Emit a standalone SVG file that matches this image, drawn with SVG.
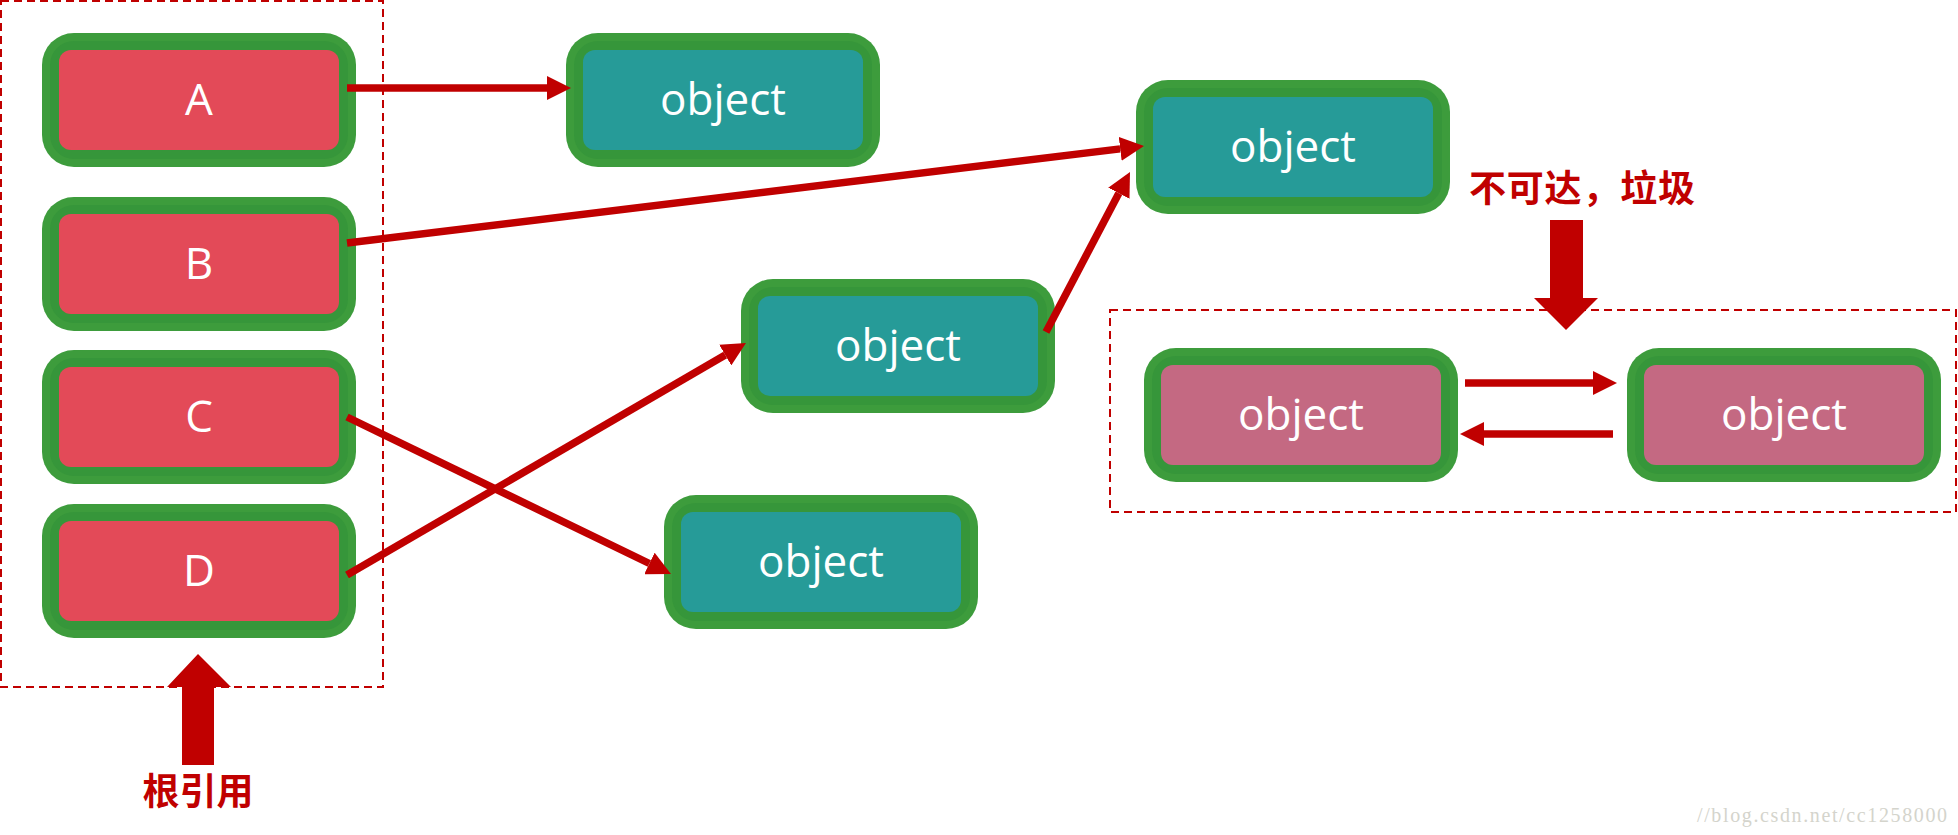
<svg xmlns="http://www.w3.org/2000/svg" width="1958" height="835" viewBox="0 0 1958 835">
<style>
.o{fill:#3d9c3c}
.m{fill:#36963a}
.red{fill:#e34a58}
.teal{fill:#269b98}
.pink{fill:#c46982}
.lbl{font-family:"Open Sans","Noto Sans",sans-serif;font-size:44px;fill:#ffffff;text-anchor:middle}
.dash{fill:none;stroke:#c00000;stroke-width:2;stroke-dasharray:8 5}
.cn{font-family:"Noto Sans CJK SC",sans-serif;font-weight:bold;font-size:37px;fill:#c00000}
.con{stroke:#c00000;stroke-width:7.5;fill:none;marker-end:url(#ah)}
</style>
<defs>
<marker id="ah" markerUnits="userSpaceOnUse" markerWidth="24" markerHeight="24" refX="0" refY="12" orient="auto" viewBox="0 0 24 24">
<path d="M0,0 L24,12 L0,24 z" fill="#c00000"/>
</marker>
<g id="box">
<rect x="0" y="0" width="314" height="134" rx="32" class="o"/>
<rect x="8" y="8" width="298" height="118" rx="24" class="m"/>
</g>
</defs>
<rect width="1958" height="835" fill="#ffffff"/>
<rect x="1" y="1" width="382" height="686" class="dash"/>
<rect x="1110" y="310" width="846" height="202" class="dash"/>

<g id="nodeA"><use href="#box" x="42" y="33"/><rect x="59" y="50" width="280" height="100" rx="12" class="red"/><text x="199" y="115" class="lbl">A</text></g>
<g id="nodeB"><use href="#box" x="42" y="197"/><rect x="59" y="214" width="280" height="100" rx="12" class="red"/><text x="199" y="279" class="lbl">B</text></g>
<g id="nodeC"><use href="#box" x="42" y="350"/><rect x="59" y="367" width="280" height="100" rx="12" class="red"/><text x="199" y="432" class="lbl">C</text></g>
<g id="nodeD"><use href="#box" x="42" y="504"/><rect x="59" y="521" width="280" height="100" rx="12" class="red"/><text x="199" y="586" class="lbl">D</text></g>

<g id="obj1"><use href="#box" x="566" y="33"/><rect x="583" y="50" width="280" height="100" rx="12" class="teal"/><text x="723" y="115" class="lbl">object</text></g>
<g id="obj2"><use href="#box" x="1136" y="80"/><rect x="1153" y="97" width="280" height="100" rx="12" class="teal"/><text x="1293" y="162" class="lbl">object</text></g>
<g id="obj3"><use href="#box" x="741" y="279"/><rect x="758" y="296" width="280" height="100" rx="12" class="teal"/><text x="898" y="361" class="lbl">object</text></g>
<g id="obj4"><use href="#box" x="664" y="495"/><rect x="681" y="512" width="280" height="100" rx="12" class="teal"/><text x="821" y="577" class="lbl">object</text></g>
<g id="pink1"><use href="#box" x="1144" y="348"/><rect x="1161" y="365" width="280" height="100" rx="12" class="pink"/><text x="1301" y="430" class="lbl">object</text></g>
<g id="pink2"><use href="#box" x="1627" y="348"/><rect x="1644" y="365" width="280" height="100" rx="12" class="pink"/><text x="1784" y="430" class="lbl">object</text></g>

<g id="connectors">
<line x1="347" y1="88" x2="547" y2="88" class="con"/>
<line x1="347" y1="243" x2="1120.2" y2="148.9" class="con"/>
<line x1="347" y1="417" x2="649.4" y2="563.5" class="con"/>
<line x1="347" y1="575" x2="725.25" y2="355.06" class="con"/>
<line x1="1046" y1="332" x2="1118.84" y2="193.25" class="con"/>
<line x1="1465" y1="383" x2="1593" y2="383" class="con"/>
<line x1="1613" y1="434" x2="1484" y2="434" class="con"/>
</g>

<g id="rootArrow">
<polygon points="198,654 231,687 214,687 214,765 182,765 182,687 167,687" fill="#c00000"/>
<text x="198" y="805" class="cn" text-anchor="middle">根引用</text>
</g>
<g id="garbageArrow">
<text x="1469" y="202" class="cn" textLength="226">不可达，垃圾</text>
<polygon points="1550,220 1583,220 1583,298 1598,298 1566,330 1534,298 1550,298" fill="#c00000"/>
</g>
<text x="1697" y="822" font-family="Liberation Serif,serif" font-size="20" fill="#d4d4cc" textLength="250">//blog.csdn.net/cc1258000</text>
</svg>
